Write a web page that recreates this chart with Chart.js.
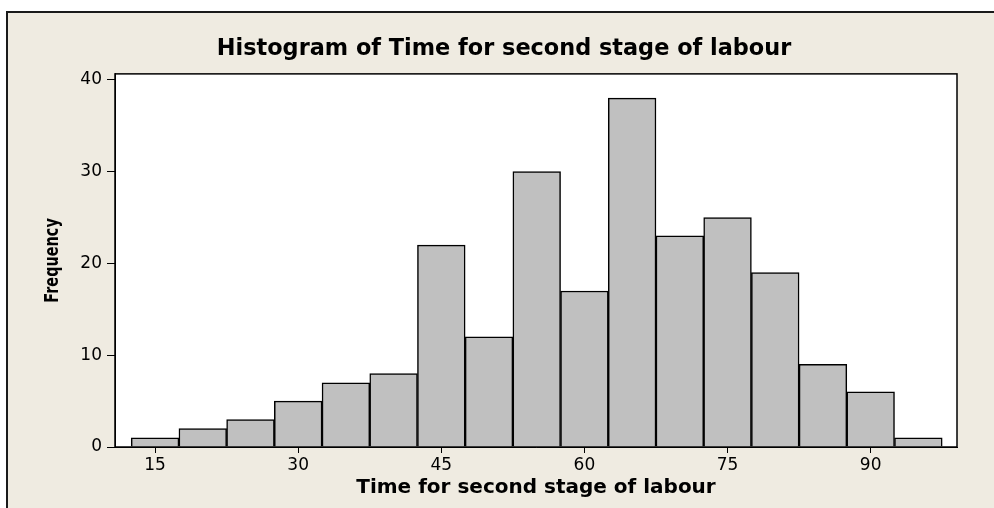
<!DOCTYPE html>
<html>
<head>
<meta charset="utf-8">
<title>Histogram of Time for second stage of labour</title>
<script src="https://cdn.jsdelivr.net/npm/chart.js@4"></script>
<style>
  html, body { margin: 0; padding: 0; background: #ffffff; }
  #hist { display: block; }
</style>
</head>
<body>
<canvas id="hist" width="994" height="508"></canvas>
<script>
'use strict';

// bin midpoints (width 5)
var binMids = [15, 20, 25, 30, 35, 40, 45, 50, 55, 60, 65, 70, 75, 80, 85, 90, 95];
// frequency per bin
var freqs = [1, 2, 3, 5, 7, 8, 22, 12, 30, 17, 38, 23, 25, 19, 9, 6, 1];
// tick labels
var xTicks = [15, 30, 45, 60, 75, 90];
var yTicks = [0, 10, 20, 30, 40];
var yLabel = 'Frequency';

var points = binMids.map(function(m, i) {
    return { x: m, y: freqs[i] };
});

// minitab style page: beige frame, white plot box
var framePlugin = {
    id: 'frame',
    beforeDraw: function(chart) {
        var ctx = chart.ctx;
        var a = chart.chartArea;
        ctx.save();
        ctx.fillStyle = '#ffffff';
        ctx.fillRect(0, 0, chart.width, chart.height);
        ctx.fillStyle = '#efebe1';
        ctx.fillRect(6, 11, chart.width - 6, chart.height - 11);
        ctx.fillStyle = '#1a1a1a';
        ctx.fillRect(6, 11, chart.width - 6, 2);
        ctx.fillRect(6, 11, 2, chart.height - 11);
        ctx.fillStyle = '#ffffff';
        ctx.fillRect(a.left, a.top, a.right - a.left, a.bottom - a.top);
        ctx.restore();
    },
    afterDraw: function(chart) {
        var ctx = chart.ctx;
        var a = chart.chartArea;
        ctx.save();
        ctx.strokeStyle = '#000000';
        ctx.lineWidth = 1.5;
        ctx.strokeRect(a.left, a.top, a.right - a.left, a.bottom - a.top);

        // y axis title, narrow bold like the original
        ctx.translate(58, (a.top + a.bottom) / 2 + 0);
        ctx.rotate(-Math.PI / 2);
        ctx.scale(0.76, 1);
        ctx.fillStyle = '#000000';
        ctx.font = 'bold 19px "DejaVu Sans"';
        ctx.textAlign = 'center';
        ctx.textBaseline = 'alphabetic';
        ctx.fillText(yLabel, 0, 0);
        ctx.restore();
    }
};

var ctx = document.getElementById('hist').getContext('2d');
var chart = new Chart(ctx, {
    type: 'bar',
    data: {
        datasets: [{
            data: points,
            backgroundColor: '#c0c0c0',
            borderColor: '#000000',
            borderWidth: 1.5,
            barPercentage: 1,
            categoryPercentage: 1
        }]
    },
    options: {
        responsive: false,
        animation: false,
        layout: {
            padding: { left: 51, right: 37, top: 0, bottom: 0 }
        },
        plugins: {
            legend: { display: false },
            tooltip: { enabled: false },
            title: {
                display: true,
                text: 'Histogram of Time for second stage of labour',
                color: '#000000',
                font: { family: 'DejaVu Sans', size: 22.4, weight: 'bold', lineHeight: 1.2 },
                padding: { top: 36, bottom: 11 }
            }
        },
        scales: {
            x: {
                type: 'linear',
                min: 10.8,
                max: 99.05,
                offset: false,
                afterBuildTicks: function(scale) {
                    scale.ticks = xTicks.map(function(v) { return { value: v }; });
                },
                afterFit: function(scale) {
                    scale.height = 61;
                },
                grid: {
                    display: true,
                    offset: false,
                    drawOnChartArea: false,
                    drawTicks: true,
                    tickLength: 6,
                    tickWidth: 1,
                    color: '#000000'
                },
                border: { display: true, color: '#000000', width: 1 },
                ticks: {
                    color: '#000000',
                    padding: 2,
                    maxRotation: 0,
                    autoSkip: false,
                    font: { family: 'DejaVu Sans', size: 17 }
                },
                title: {
                    display: true,
                    text: 'Time for second stage of labour',
                    color: '#000000',
                    font: { family: 'DejaVu Sans', size: 20, weight: 'bold', lineHeight: 1.2 },
                    padding: { top: 0, bottom: 8 }
                }
            },
            y: {
                min: 0,
                max: 40.65,
                afterBuildTicks: function(scale) {
                    scale.ticks = yTicks.map(function(v) { return { value: v }; });
                },
                afterFit: function(scale) {
                    scale.width = 64;
                },
                grid: {
                    display: true,
                    drawOnChartArea: false,
                    drawTicks: true,
                    tickLength: 8,
                    tickWidth: 1,
                    color: '#000000'
                },
                border: { display: true, color: '#000000', width: 1 },
                ticks: {
                    color: '#000000',
                    padding: 5,
                    font: { family: 'DejaVu Sans', size: 17 }
                },
                title: { display: false }
            }
        }
    },
    plugins: [framePlugin]
});
</script>
</body>
</html>
